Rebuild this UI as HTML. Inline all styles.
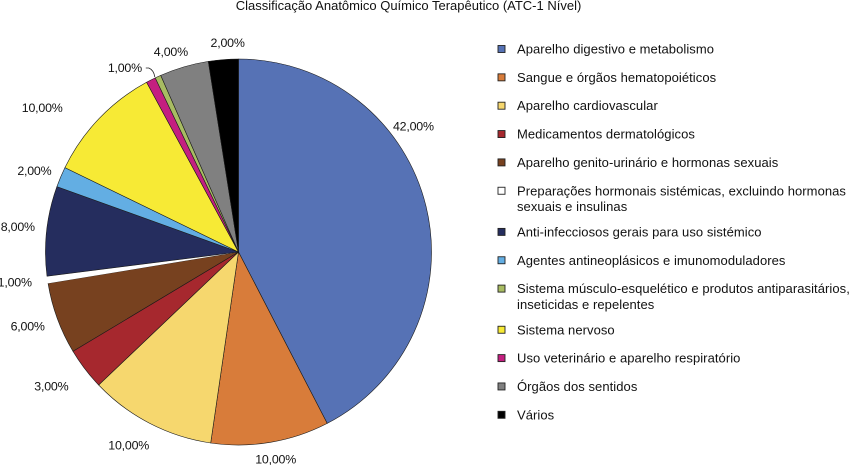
<!DOCTYPE html>
<html lang="pt">
<head>
<meta charset="utf-8">
<title>Classificação Anatómico Químico Terapêutico</title>
<style>
html,body{margin:0;padding:0;background:#fff;width:850px;height:466px;overflow:hidden}
svg{display:block}
text{font-family:"Liberation Sans",sans-serif;fill:#111}
</style>
</head>
<body>
<svg id="chart" width="850" height="466" viewBox="0 0 850 466" xmlns="http://www.w3.org/2000/svg">
  <text x="408.5" y="10" text-anchor="middle" font-size="13" letter-spacing="0">Classificação Anatômico Químico Terapêutico (ATC-1 Nível)</text>
  <g id="slices"></g>
  <path id="leader" fill="none" stroke="#222" stroke-width="0.8"></path>
  <g id="labels"></g>
  <g id="legend"></g>
</svg>
<script>
// Slice data in clockwise drawing order (share of the circle)
const sliceNames = ["digestivo","sangue","cardiovascular","dermatologicos","genito-urinario","hormonais","anti-infecciosos","antineoplasicos","nervoso","veterinario","musculo-esqueletico","sentidos","varios"];
const sliceValues = [42.4,9.9,10.6,3.5,6.0,0.6,7.5,1.7,9.9,0.8,0.5,4.1,2.5];
const sliceLabels = ["42,00%","10,00%","10,00%","3,00%","6,00%","1,00%","8,00%","2,00%","10,00%","1,00%","","4,00%","2,00%"];
const legendNames = ["digestivo","sangue","cardiovascular","dermatologicos","genito-urinario","hormonais","anti-infecciosos","antineoplasicos","musculo-esqueletico","nervoso","veterinario","sentidos","varios"];
const legendLabels = [
  ["Aparelho digestivo e metabolismo"],
  ["Sangue e órgãos hematopoiéticos"],
  ["Aparelho cardiovascular"],
  ["Medicamentos dermatológicos"],
  ["Aparelho genito-urinário e hormonas sexuais"],
  ["Preparações hormonais sistémicas, excluindo hormonas","sexuais e insulinas"],
  ["Anti-infecciosos gerais para uso sistémico"],
  ["Agentes antineoplásicos e imunomoduladores"],
  ["Sistema músculo-esquelético e produtos antiparasitários,","inseticidas e repelentes"],
  ["Sistema nervoso"],
  ["Uso veterinário e aparelho respiratório"],
  ["Órgãos dos sentidos"],
  ["Vários"]
];

// Styling and layout
const colorOf = {"digestivo":"#5672B5","sangue":"#D87C3A","cardiovascular":"#F6D76E","dermatologicos":"#A6282E","genito-urinario":"#77411F","hormonais":"#FFFFFF","anti-infecciosos":"#252D5E","antineoplasicos":"#63AEE3","nervoso":"#F7EA35","veterinario":"#C41F80","musculo-esqueletico":"#A8BC62","sentidos":"#808080","varios":"#000000"};
const nudgeX = [-34,1.5,-11,-16,-9,-11,-7,-6,-41,-16,0,-7,6];
const nudgeY = [-75,-5,2,4,0,-1,-2,2,4,7,0,6,5];
const cx = 238.5, cy = 252, R = 193, labelR = 215;
const SVGNS = "http://www.w3.org/2000/svg";

function angleOf(v, total){ return v / total * 2 * Math.PI; }
function px(a, r){ return cx + r * Math.sin(a); }
function py(a, r){ return cy - r * Math.cos(a); }

const slicesG = document.getElementById("slices");
const labelsG = document.getElementById("labels");
const total = sliceValues.reduce(function(s, v){ return s + v; }, 0);
let running = 0;
let leaderAngle = 0;
sliceValues.forEach(function(v, i){
  const a0 = angleOf(running, total);
  running += v;
  const a1 = angleOf(running, total);
  const mid = (a0 + a1) / 2;
  const large = a1 - a0 > Math.PI ? 1 : 0;
  const path = document.createElementNS(SVGNS, "path");
  path.setAttribute("d", "M" + cx + " " + cy + " L" + px(a0, R) + " " + py(a0, R) + " A" + R + " " + R + " 0 " + large + " 1 " + px(a1, R) + " " + py(a1, R) + " Z");
  path.setAttribute("fill", colorOf[sliceNames[i]]);
  const isWhite = sliceNames[i] === "hormonais";
  path.setAttribute("stroke", isWhite ? "none" : "#1a1a1a");
  path.setAttribute("stroke-width", "0.6");
  path.setAttribute("stroke-linejoin", "round");
  
  
  slicesG.appendChild(path);
  if (sliceNames[i] === "veterinario") leaderAngle = a1;
  if (sliceLabels[i]) {
    const t = document.createElementNS(SVGNS, "text");
    t.setAttribute("x", px(mid, labelR) + nudgeX[i]);
    t.setAttribute("y", py(mid, labelR) + nudgeY[i] + 4.5);
    t.setAttribute("text-anchor", "middle");
    t.setAttribute("font-size", "12.4");
    t.setAttribute("letter-spacing", "-0.2");
    
    
    t.textContent = sliceLabels[i];
    labelsG.appendChild(t);
  }
});

// Leader from the small "1,00%" label down to the thin slices
const ex = px(leaderAngle, R + 1), ey = py(leaderAngle, R + 1);
document.getElementById("leader").setAttribute("d", "M" + (ex - 9) + " " + (ey - 9) + " L" + (ex - 6) + " " + (ey - 9) + " Q" + (ex - 1) + " " + (ey - 7) + " " + ex + " " + ey);

// Legend
const legendG = document.getElementById("legend");
const rowGap = 28.35, lineGap = 15.8;
let rowY = 49;
legendLabels.forEach(function(lines, i){
  const item = document.createElementNS(SVGNS, "g");
  
  
  const sw = document.createElementNS(SVGNS, "rect");
  sw.setAttribute("x", 498);
  sw.setAttribute("y", rowY - 3.5);
  sw.setAttribute("width", 7);
  sw.setAttribute("height", 7);
  sw.setAttribute("fill", colorOf[legendNames[i]]);
  sw.setAttribute("stroke", "#222");
  sw.setAttribute("stroke-width", "0.9");
  
  
  item.appendChild(sw);
  lines.forEach(function(line, j){
    const t = document.createElementNS(SVGNS, "text");
    t.setAttribute("x", 517);
    t.setAttribute("y", rowY + 4.5 + j * lineGap);
    t.setAttribute("font-size", "13");
    t.setAttribute("letter-spacing", "0.06");
    
    
    t.textContent = line;
    item.appendChild(t);
  });
  legendG.appendChild(item);
  rowY += rowGap + (lines.length - 1) * (lineGap - 3.0);
});
</script>
</body>
</html>
